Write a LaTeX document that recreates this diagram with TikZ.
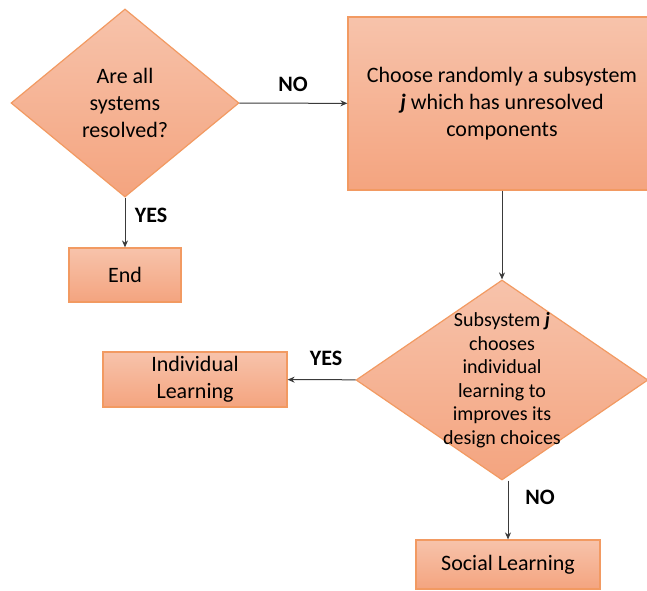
\documentclass[tikz,border=0pt]{standalone}
\usepackage{fontspec}
\setmainfont{Carlito}
\usetikzlibrary{arrows.meta,positioning,shapes.geometric}
\definecolor{peachtop}{HTML}{F7C3AB}
\definecolor{peachbot}{HTML}{F4A47F}
\definecolor{peachline}{HTML}{F29A62}
\definecolor{arrowgray}{HTML}{3A3A3A}
\tikzset{
  shaded/.style={draw=peachline,line width=1.2pt,top color=peachtop,bottom color=peachbot,
    font=\fontsize{22}{27}\selectfont,align=center,inner sep=0pt},
  stepbox/.style={shaded,rectangle},
  decision/.style={shaded,diamond},
  flow/.style={-{Stealth[length=7pt,width=6pt]},line width=1pt,draw=arrowgray},
  answer/.style={font=\bfseries\fontsize{22}{27}\selectfont}
}

\begin{document}
\begin{tikzpicture}[x=1pt,y=-1pt]
  \useasboundingbox (0,0) rectangle (647,590);
  \node[decision,minimum width=228pt,minimum height=188pt] (check) at (125,103) {Are all\\systems\\resolved?};
  \node[stepbox,minimum width=308pt,minimum height=173pt] (pick) at (502,103.5) {Choose randomly a subsystem\\\textbf{\textit{j}} which has unresolved\\components};
  \node[stepbox,minimum width=112pt,minimum height=54pt] (finish) at (125,275) {End};
  \node[decision,minimum width=292pt,minimum height=200pt,
    label={[align=center,font=\fontsize{20}{23.5}\selectfont]center:Subsystem \textbf{\textit{j}}\\chooses\\individual\\learning to\\improves its\\design choices}] (learn) at (502,380) {};
  \node[stepbox,minimum width=184pt,minimum height=55pt] (indiv) at (195,379.5) {Individual\\Learning};
  \node[stepbox,minimum width=184pt,minimum height=49pt] (social) at (508,564.5) {Social Learning};
  \draw[flow] (check) -- (pick);
  \draw[flow] (check) -- (finish);
  \draw[flow] (pick) -- (learn);
  \draw[flow] (learn) -- (indiv);
  \draw[flow] (learn.south -| social.north) -- (social.north);
  \node[answer] (no1) at (293,84) {NO};
  \node[answer] (yes1) at (151,215) {YES};
  \node[answer] (yes2) at (326,358) {YES};
  \node[answer] (no2) at (540,497) {NO};
\end{tikzpicture}
\end{document}
